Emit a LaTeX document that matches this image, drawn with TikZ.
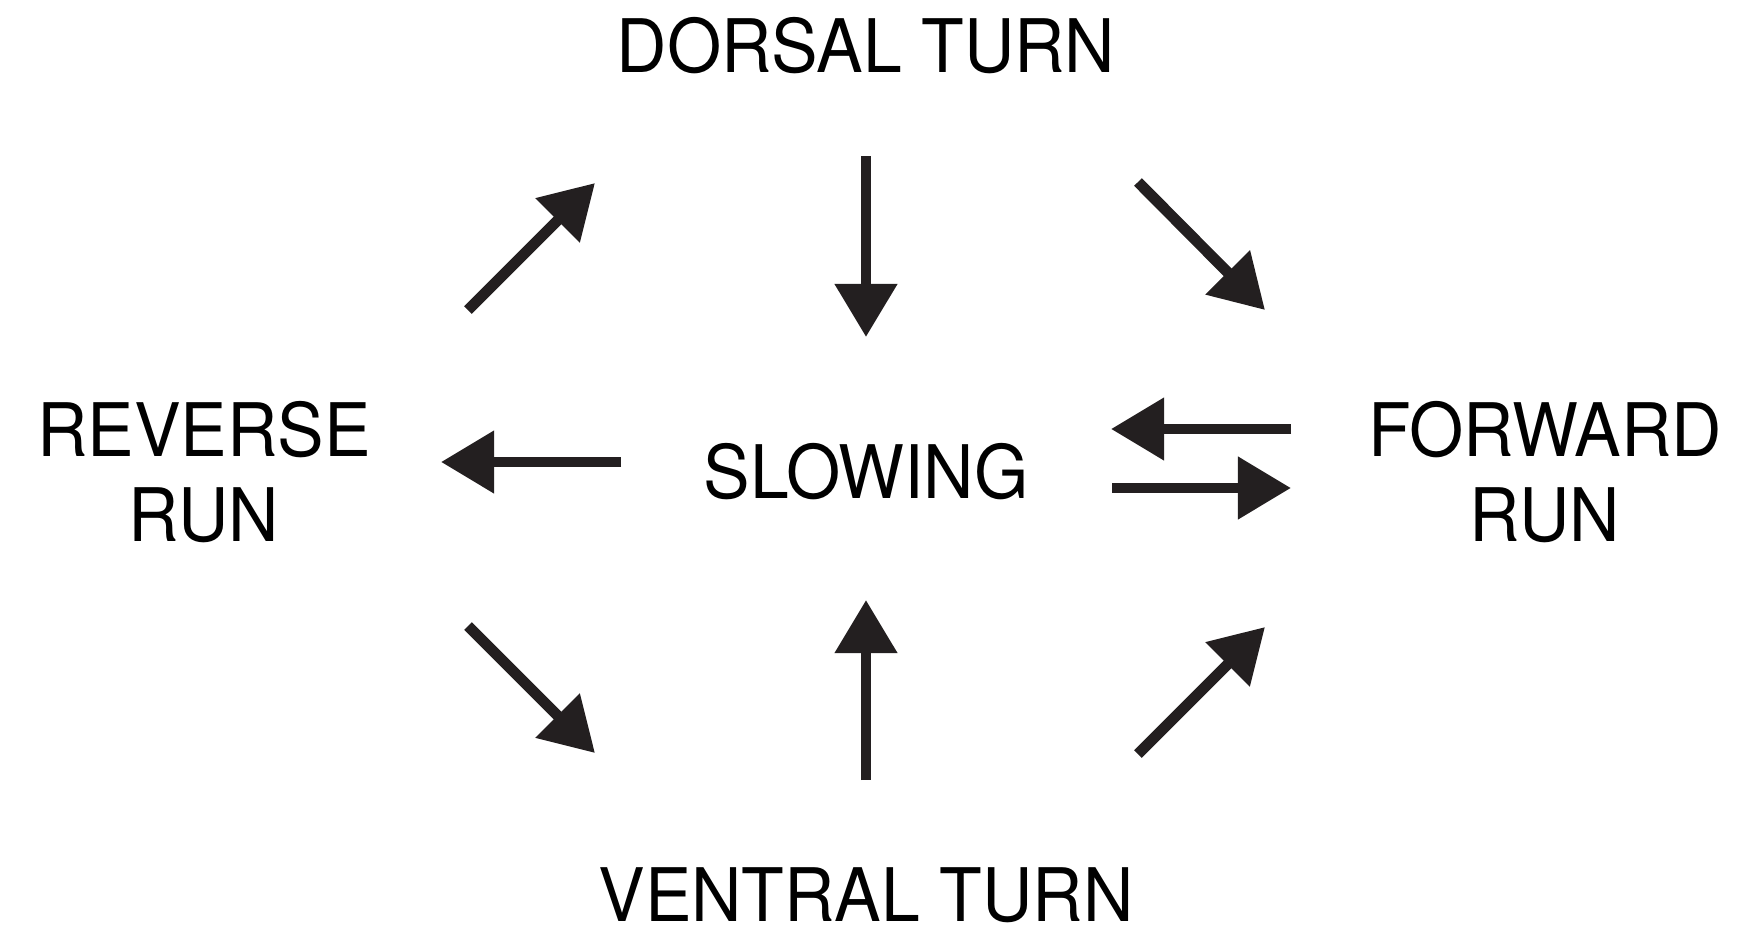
\documentclass[tikz,border=0pt]{standalone}
\usepackage{fontspec}
\setmainfont{TeX Gyre Heros}
\newfontfamily\heros[FakeStretch=0.945]{TeX Gyre Heros}
\usepackage{xcolor}
\usetikzlibrary{arrows.meta}

\definecolor{ink}{RGB}{35,31,32}
\newcommand{\statefont}{\heros\fontsize{21}{24.1}\selectfont}

\tikzset{
  state/.style={font=\statefont, align=center, inner sep=0pt, anchor=base},
  flow/.style={draw=ink, line width=3.1pt, -{Triangle[length=5.3mm, width=6mm]}}
}

\begin{document}
\begin{tikzpicture}[x=0.01cm, y=-0.01cm]
  \useasboundingbox (0,0) rectangle (1747,936);
  % ---- states (baselines in px, y downwards; two-line nodes sit on the last line) ----
  \node[state] (dorsal)  at (866,72)  {DORSAL TURN};
  \node[state] (slowing) at (866,498) {SLOWING};
  \node[state] (ventral) at (866,921) {VENTRAL TURN};
  \node[state] (reverse) at (204,541) {REVERSE\\RUN};
  \node[state] (forward) at (1545,541) {FORWARD\\RUN};

  % ---- arrow ends ----
  \coordinate (rd0) at (468,310);  \coordinate (rd1) at (595,183);
  \coordinate (ds0) at (866,156);  \coordinate (ds1) at (866,337);
  \coordinate (df0) at (1138,182); \coordinate (df1) at (1265,310);
  \coordinate (sr0) at (621,462);  \coordinate (sr1) at (441,462);
  \coordinate (fs0) at (1291,429); \coordinate (fs1) at (1111,429);
  \coordinate (sf0) at (1112,488); \coordinate (sf1) at (1291,488);
  \coordinate (rv0) at (468,626);  \coordinate (rv1) at (595,753);
  \coordinate (vs0) at (866,780);  \coordinate (vs1) at (866,600);
  \coordinate (vf0) at (1138,754); \coordinate (vf1) at (1265,627);

  % ---- transitions ----
  \foreach \a in {rd, ds, df, sr, fs, sf, rv, vs, vf}
    \draw[flow] (\a0) -- (\a1);
\end{tikzpicture}
\end{document}
